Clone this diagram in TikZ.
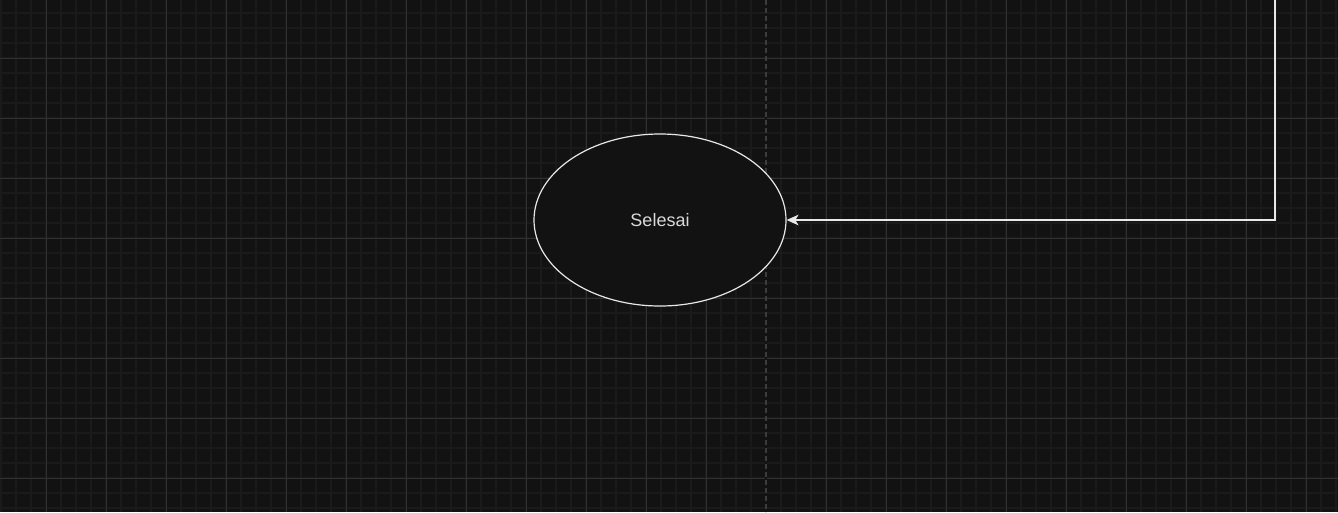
\documentclass[tikz,border=0pt]{standalone}
\usepackage{fontspec}
\setmainfont{Liberation Sans}
\usetikzlibrary{arrows.meta,shapes.geometric}
\definecolor{bg}{HTML}{121212}
\definecolor{minorgrid}{HTML}{1A1A1A}
\definecolor{majorgrid}{HTML}{303030}
\definecolor{dashcol}{HTML}{3C3C3C}
\definecolor{stroke}{HTML}{E8E8E8}
\definecolor{txt}{HTML}{DADADA}
\tikzset{
  minorline/.style={draw=minorgrid, line width=0.9pt},
  majorline/.style={draw=majorgrid, line width=0.75pt},
  terminal/.style={ellipse, draw=stroke, fill=bg, line width=0.9pt, minimum width=189pt, minimum height=129pt, inner sep=0pt, text=txt, font=\fontsize{13.5}{15}\selectfont},
  connector/.style={draw=stroke, line width=0.9pt, -{Stealth[length=9pt,width=8pt,inset=2.5pt]}},
}
\begin{document}
\begin{tikzpicture}[x=0.75pt,y=-0.75pt]
\useasboundingbox (0,0) rectangle (1338,512);
\fill[bg] (0,0) rectangle (1338,512);
\foreach \i in {0,...,89} { \draw[minorline] ({1+15*\i},0) -- ({1+15*\i},512); }
\foreach \j in {0,...,33} { \draw[minorline] (0,{13+15*\j}) -- (1338,{13+15*\j}); }
\foreach \i in {0,...,21} { \draw[majorline] ({46+60*\i},0) -- ({46+60*\i},512); }
\foreach \j in {0,...,7} { \draw[majorline] (0,{58+60*\j}) -- (1338,{58+60*\j}); }
\fill[bg] (765,0) rectangle (767,512);
\draw[dashcol, line width=0.9pt, dash pattern=on 4pt off 2pt] (766,0) -- (766,512);
\node[terminal] (end) at (660,220) {Selesai};
\coordinate (src) at (1275,0);
\draw[connector] (src) |- (end.east);
\end{tikzpicture}
\end{document}
